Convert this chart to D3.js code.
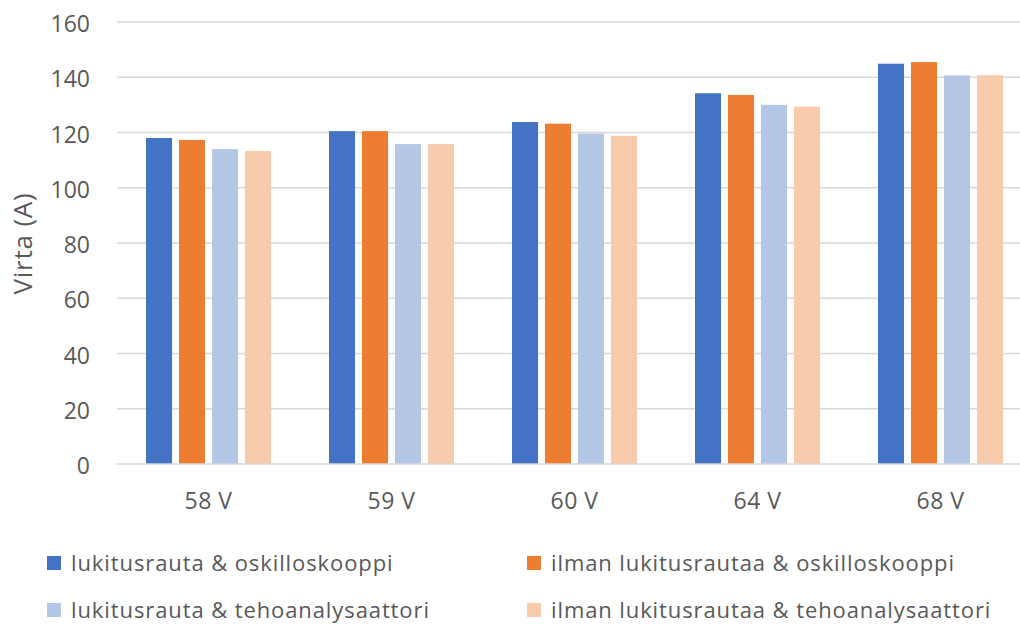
<!DOCTYPE html>
<html><head><meta charset="utf-8">
<script src="https://cdn.jsdelivr.net/npm/d3@7"></script>
<style>body{margin:0;background:#fff;} svg{display:block;}</style>
</head><body>
<svg id="c" width="1020" height="626"></svg>
<script>
const categories = ["58 V", "59 V", "60 V", "64 V", "68 V"];
const seriesNames = [
  "lukitusrauta & oskilloskooppi",
  "ilman lukitusrautaa & oskilloskooppi",
  "lukitusrauta & tehoanalysaattori",
  "ilman lukitusrautaa & tehoanalysaattori"
];
const lukitusOsk = [118.0, 120.5, 123.8, 134.2, 144.9];
const ilmanOsk = [117.3, 120.5, 123.2, 133.6, 145.5];
const lukitusTeho = [114.0, 115.8, 119.6, 130.0, 140.7];
const ilmanTeho = [113.3, 115.8, 118.8, 129.4, 140.7];
const yTicks = [0, 20, 40, 60, 80, 100, 120, 140, 160];
const colors = ["#4472C4", "#ED7D31", "#B4C7E7", "#F8CBAD"];
const seriesValues = [lukitusOsk, ilmanOsk, lukitusTeho, ilmanTeho];

const font = "'Open Sans', sans-serif";
const txt = "#595959";
const svg = d3.select("#c");
const pLeft = 117, pRight = 1032, pTop = 22, pBottom = 464;

const x0 = d3.scaleBand().domain(categories).range([pLeft, pRight]).paddingInner(0.317).paddingOuter(0.1585);
const x1 = d3.scaleBand().domain(d3.range(4)).range([0, x0.bandwidth()]).paddingInner(0.21);
const y = d3.scaleLinear().domain([0, 160]).range([pBottom, pTop]);

// gridlines
svg.append("g").selectAll("line").data(yTicks.filter(d => d > 0)).join("line")
  .attr("x1", pLeft).attr("x2", 1020)
  .attr("y1", d => y(d)).attr("y2", d => y(d))
  .attr("stroke", "#d9d9d9").attr("stroke-width", 1.5);

// y axis labels
const yAxis = d3.axisLeft(y).tickValues(yTicks).tickSize(0).tickPadding(0);
const gy = svg.append("g").attr("transform", `translate(90,1.5)`).call(yAxis);
gy.select(".domain").remove();
gy.selectAll("text").attr("font-family", font).attr("font-size", 23).attr("fill", txt).attr("dy", "0.35em");

// bars
const groups = svg.append("g").selectAll("g").data(categories).join("g")
  .attr("transform", d => `translate(${x0(d)},0)`);
groups.selectAll("rect").data((d, i) => seriesValues.map((s, k) => ({k, v: s[i]}))).join("rect")
  .attr("x", d => x1(d.k)).attr("width", x1.bandwidth())
  .attr("y", d => y(d.v)).attr("height", d => y(0) - y(d.v))
  .attr("fill", d => colors[d.k]);

// x axis baseline
svg.append("line").attr("x1", pLeft).attr("x2", 1020).attr("y1", pBottom).attr("y2", pBottom)
  .attr("stroke", "#d9d9d9").attr("stroke-width", 1.5);

const xAxis = d3.axisBottom(x0).tickSize(0).tickPadding(0);
const gx = svg.append("g").attr("transform", `translate(0,${pBottom})`).call(xAxis);
gx.select(".domain").remove();
gx.selectAll("text").attr("font-family", font).attr("font-size", 23).attr("fill", txt)
  .attr("y", 37).attr("dy", "0.35em").attr("letter-spacing", 0.5);

// y title
svg.append("text").attr("transform", "translate(23,243.5) rotate(-90)")
  .attr("text-anchor", "middle").attr("dy", "0.35em").attr("letter-spacing", 0.8)
  .attr("font-family", font).attr("font-size", 26).attr("fill", txt).text("Virta (A)");

// legend
const legPos = [[47, 563], [527, 563], [47, 610], [527, 610]];
const leg = svg.append("g").selectAll("g").data(seriesNames).join("g")
  .attr("transform", (d, i) => `translate(${legPos[i][0]},${legPos[i][1]})`);
leg.append("rect").attr("x", 0).attr("y", -7).attr("width", 14).attr("height", 14).attr("fill", (d, i) => colors[i]);
leg.append("text").attr("x", 24).attr("dy", "0.35em").attr("font-family", font).attr("font-size", 22)
  .attr("letter-spacing", 0.9).attr("fill", txt).text(d => d);
</script>
</body></html>
